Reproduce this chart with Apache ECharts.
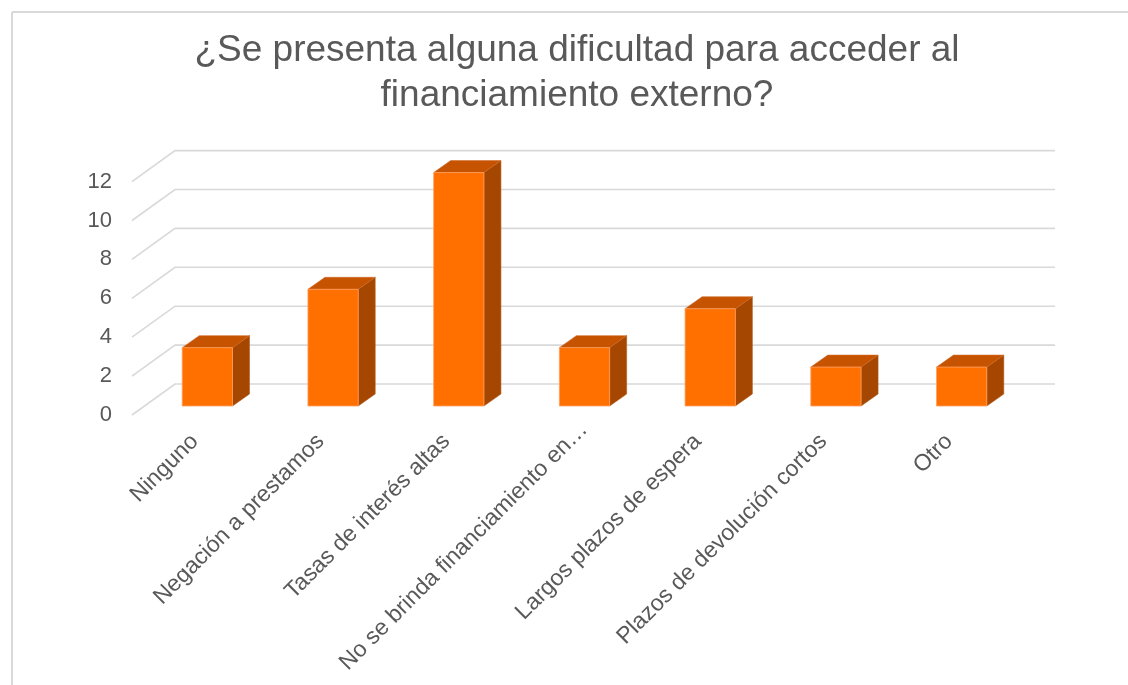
<!DOCTYPE html>
<html>
<head>
<meta charset="utf-8">
<script src="https://cdn.jsdelivr.net/npm/echarts@6/dist/echarts.min.js"></script>
<style>
  html, body { margin: 0; padding: 0; background: #ffffff; }
  #chart { width: 1128px; height: 685px; }
</style>
</head>
<body>
<div id="chart"></div>
<script>
const titleText = '¿Se presenta alguna dificultad para acceder al\nfinanciamiento externo?';
const categories = [
  'Ninguno',
  'Negación a prestamos',
  'Tasas de interés altas',
  'No se brinda financiamiento en…',
  'Largos plazos de espera',
  'Plazos de devolución cortos',
  'Otro'
];
const values = [3, 6, 12, 3, 5, 2, 2];
const yTicks = [0, 2, 4, 6, 8, 10, 12];

const FONT = '"Liberation Sans", Arial, sans-serif';
const TEXT = '#595959';
const GRID = '#d9d9d9';

// 3D projection offsets (pixels)
const BAR_DX = 12.5, BAR_DY = -9;     // bar front plane relative to floor front
const DEPTH_DX = 17, DEPTH_DY = -12;  // bar depth
const WALL_DX = 43, WALL_DY = -31;    // back wall relative to floor front

const chart = echarts.init(document.getElementById('chart'));

const option = {
  backgroundColor: '#ffffff',
  animation: false,
  title: {
    text: titleText,
    left: 577,
    top: 28,
    padding: 0,
    textAlign: 'center',
    textStyle: {
      fontFamily: FONT,
      fontSize: 37,
      fontWeight: 'normal',
      color: TEXT,
      lineHeight: 45,
      align: 'center'
    }
  },
  grid: {
    left: 132,
    right: 116,
    top: 181.6,
    bottom: 270,
    containLabel: false,
    outerBoundsMode: 'none'
  },
  xAxis: {
    type: 'category',
    data: categories.map(c => c.endsWith('…')
      ? { value: c, textStyle: { padding: [0, -17, 0, 0] } }
      : c),
    axisLine: { show: false },
    axisTick: { show: false },
    splitLine: { show: false },
    axisLabel: {
      interval: 0,
      rotate: 45,
      margin: 23,
      fontFamily: FONT,
      fontSize: 23,
      color: TEXT
    }
  },
  yAxis: {
    type: 'value',
    min: 0,
    max: 12,
    interval: 2,
    axisLine: { show: false },
    axisTick: { show: false },
    splitLine: { show: false },
    axisLabel: {
      margin: 20,
      fontFamily: FONT,
      fontSize: 22,
      color: TEXT
    }
  },
  graphic: [
    { type: 'line', shape: { x1: 12, y1: 12, x2: 1128, y2: 12 }, style: { stroke: GRID, lineWidth: 2 } },
    { type: 'line', shape: { x1: 12, y1: 12, x2: 12, y2: 685 }, style: { stroke: GRID, lineWidth: 2 } }
  ],
  series: [
    {
      type: 'custom',
      name: 'grid3d',
      z: 1,
      silent: true,
      data: yTicks.map(v => [0, v]),
      encode: { x: 0, y: 1 },
      renderItem: function (params, api) {
        const cs = params.coordSys;
        const y = api.coord([0, api.value(1)])[1];
        const x0 = cs.x, x1 = cs.x + cs.width;
        return {
          type: 'polyline',
          shape: {
            points: [
              [x0, y],
              [x0 + WALL_DX, y + WALL_DY],
              [x1 + WALL_DX, y + WALL_DY]
            ]
          },
          style: { stroke: GRID, lineWidth: 1.6, fill: null }
        };
      }
    },
    {
      type: 'custom',
      name: 'bars',
      z: 2,
      data: values.map((v, i) => [i, v]),
      encode: { x: 0, y: 1 },
      renderItem: function (params, api) {
        const i = api.value(0), v = api.value(1);
        const top = api.coord([i, v]);
        const base = api.coord([i, 0]);
        const band = api.size([1, 0])[0];
        const w = band * 0.4;
        const xl = top[0] - w / 2 + BAR_DX;
        const xr = xl + w;
        const yt = top[1] + BAR_DY;
        const yb = base[1] + BAR_DY;
        return {
          type: 'group',
          children: [
            {
              type: 'polygon',
              shape: { points: [[xr, yt], [xr + DEPTH_DX, yt + DEPTH_DY], [xr + DEPTH_DX, yb + DEPTH_DY], [xr, yb]] },
              style: { fill: '#A54700', stroke: '#B45A1A', lineWidth: 0.6 }
            },
            {
              type: 'polygon',
              shape: { points: [[xl, yt], [xl + DEPTH_DX, yt + DEPTH_DY], [xr + DEPTH_DX, yt + DEPTH_DY], [xr, yt]] },
              style: { fill: '#C55300', stroke: '#D06A2A', lineWidth: 0.6 }
            },
            {
              type: 'rect',
              shape: { x: xl, y: yt, width: w, height: yb - yt },
              style: { fill: '#FF7000', stroke: '#FFA060', lineWidth: 0.8 }
            }
          ]
        };
      }
    }
  ]
};

chart.setOption(option);
</script>
</body>
</html>
